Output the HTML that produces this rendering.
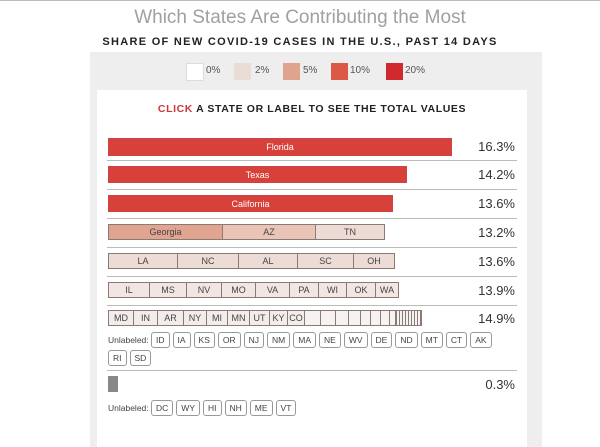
<!DOCTYPE html>
<html><head><style>
body{margin:0;width:600px;height:447px;background:#fff;font-family:"Liberation Sans",sans-serif;position:relative;overflow:hidden}
.a{position:absolute}
.b{position:absolute;box-sizing:border-box;border:1px solid #8a7a76;font-size:9px;color:#444;text-align:center;display:flex;align-items:center;justify-content:center}
.e{position:absolute;box-sizing:border-box;border:1px solid #8a7a76;border-right:none;background:#f6f2f1;top:310px;height:16px}
.p{position:absolute;right:85px;font-size:13px;color:#333}
.s{position:absolute;left:107px;width:410px;height:1px;background:#bbb}
.c{display:inline-block;border:1px solid #999;border-radius:3px;font-size:8.5px;color:#444;padding:2px 4px;margin-right:3px}
.u{position:absolute;left:108px;font-size:8.5px;color:#444}
</style></head><body>
<div class="a" style="left:0;top:0;width:600px;height:1px;background:#bbb"></div>
<div class="a" style="left:0;top:7px;width:600px;text-align:center;font-size:19px;color:#a0a0a0">Which States Are Contributing the Most</div>
<div class="a" style="left:0;top:36px;width:600px;text-align:center;font-size:11px;font-weight:bold;letter-spacing:1.3px;color:#222">SHARE OF NEW COVID-19 CASES IN THE U.S., PAST 14 DAYS</div>
<div class="a" style="left:90px;top:52px;width:452px;height:395px;background:#eeeeee"></div>
<div class="a" style="left:186px;top:63px;width:16px;height:16px;background:#fff;border:1px solid #ddd"></div><div class="a" style="left:206px;top:65px;font-size:10px;color:#555">0%</div>
<div class="a" style="left:234px;top:63px;width:17px;height:17px;background:#eadcd6"></div><div class="a" style="left:255px;top:65px;font-size:10px;color:#555">2%</div>
<div class="a" style="left:283px;top:63px;width:17px;height:17px;background:#e0a48e"></div><div class="a" style="left:303px;top:65px;font-size:10px;color:#555">5%</div>
<div class="a" style="left:331px;top:63px;width:17px;height:17px;background:#da5a47"></div><div class="a" style="left:350px;top:65px;font-size:10px;color:#555">10%</div>
<div class="a" style="left:386px;top:63px;width:17px;height:17px;background:#d02a2e"></div><div class="a" style="left:405px;top:65px;font-size:10px;color:#555">20%</div>
<div class="a" style="left:97px;top:90px;width:430px;height:357px;background:#fff"></div>
<div class="a" style="left:97px;top:103px;width:430px;text-align:center;font-size:10.5px;font-weight:bold;letter-spacing:0.6px;color:#222"><span style="color:#c8383a">CLICK</span> A STATE OR LABEL TO SEE THE TOTAL VALUES</div>

<div class="b" style="left:108px;top:138px;width:344px;height:18px;background:#d8403a;border-color:#c44;color:#fff">Florida</div><div class="p" style="top:139px">16.3%</div>
<div class="s" style="top:160px"></div>
<div class="b" style="left:108px;top:166px;width:299px;height:17px;background:#d8403a;border-color:#c44;color:#fff">Texas</div><div class="p" style="top:167px">14.2%</div>
<div class="s" style="top:189px"></div>
<div class="b" style="left:108px;top:195px;width:285px;height:17px;background:#d8403a;border-color:#c44;color:#fff">California</div><div class="p" style="top:196px">13.6%</div>
<div class="s" style="top:218px"></div>
<div class="b" style="left:108px;top:224px;width:115px;height:16px;background:#e0a490">Georgia</div>
<div class="b" style="left:222px;top:224px;width:94px;height:16px;background:#eac4b6">AZ</div>
<div class="b" style="left:315px;top:224px;width:70px;height:16px;background:#eddcd6">TN</div><div class="p" style="top:225px">13.2%</div>
<div class="s" style="top:247px"></div>
<div class="b" style="left:108px;top:253px;width:70px;height:16px;background:#eddcd6">LA</div>
<div class="b" style="left:177px;top:253px;width:62px;height:16px;background:#eddcd6">NC</div>
<div class="b" style="left:238px;top:253px;width:60px;height:16px;background:#eddcd6">AL</div>
<div class="b" style="left:297px;top:253px;width:57px;height:16px;background:#eddcd6">SC</div>
<div class="b" style="left:353px;top:253px;width:42px;height:16px;background:#eddcd6">OH</div><div class="p" style="top:254px">13.6%</div>
<div class="s" style="top:276px"></div>
<div class="b" style="left:108px;top:282px;width:42px;height:16px;background:#f1e6e2">IL</div>
<div class="b" style="left:149px;top:282px;width:38px;height:16px;background:#f1e6e2">MS</div>
<div class="b" style="left:186px;top:282px;width:36px;height:16px;background:#f1e6e2">NV</div>
<div class="b" style="left:221px;top:282px;width:35px;height:16px;background:#f1e6e2">MO</div>
<div class="b" style="left:255px;top:282px;width:35px;height:16px;background:#f1e6e2">VA</div>
<div class="b" style="left:289px;top:282px;width:30px;height:16px;background:#f1e6e2">PA</div>
<div class="b" style="left:318px;top:282px;width:29px;height:16px;background:#f1e6e2">WI</div>
<div class="b" style="left:346px;top:282px;width:30px;height:16px;background:#f1e6e2">OK</div>
<div class="b" style="left:375px;top:282px;width:24px;height:16px;background:#f1e6e2">WA</div><div class="p" style="top:283px">13.9%</div>
<div class="s" style="top:305px"></div>
<div class="b" style="left:108px;top:310px;width:26px;height:16px;background:#f3ecea">MD</div>
<div class="b" style="left:133px;top:310px;width:25px;height:16px;background:#f3ecea">IN</div>
<div class="b" style="left:157px;top:310px;width:27px;height:16px;background:#f3ecea">AR</div>
<div class="b" style="left:183px;top:310px;width:24px;height:16px;background:#f3ecea">NY</div>
<div class="b" style="left:206px;top:310px;width:22px;height:16px;background:#f3ecea">MI</div>
<div class="b" style="left:227px;top:310px;width:23px;height:16px;background:#f3ecea">MN</div>
<div class="b" style="left:249px;top:310px;width:21px;height:16px;background:#f3ecea">UT</div>
<div class="b" style="left:269px;top:310px;width:19px;height:16px;background:#f3ecea">KY</div>
<div class="b" style="left:287px;top:310px;width:18px;height:16px;background:#f3ecea">CO</div>
<div class="e" style="left:304px;width:16px"></div>
<div class="e" style="left:320px;width:15px"></div>
<div class="e" style="left:335px;width:13px"></div>
<div class="e" style="left:348px;width:12px"></div>
<div class="e" style="left:360px;width:10px"></div>
<div class="e" style="left:370px;width:10px"></div>
<div class="e" style="left:380px;width:9px"></div>
<div class="e" style="left:389px;width:6px"></div>
<div class="a" style="left:395px;top:310px;width:27px;height:16px;box-sizing:border-box;border:1px solid #8a7a76;background:repeating-linear-gradient(90deg,#8a7a76 0 1px,#f6f2f1 1px 3px)"></div>
<div class="p" style="top:311px">14.9%</div>
<div class="u" style="top:332px">Unlabeled: <span class="c">ID</span><span class="c">IA</span><span class="c">KS</span><span class="c">OR</span><span class="c">NJ</span><span class="c">NM</span><span class="c">MA</span><span class="c">NE</span><span class="c">WV</span><span class="c">DE</span><span class="c">ND</span><span class="c">MT</span><span class="c">CT</span><span class="c">AK</span></div>
<div class="u" style="top:350px"><span class="c">RI</span><span class="c">SD</span></div>
<div class="s" style="top:370px"></div>
<div class="a" style="left:108px;top:376px;width:10px;height:16px;background:#888"></div><div class="p" style="top:377px">0.3%</div>
<div class="u" style="top:400px">Unlabeled: <span class="c">DC</span><span class="c">WY</span><span class="c">HI</span><span class="c">NH</span><span class="c">ME</span><span class="c">VT</span></div>
</body></html>
